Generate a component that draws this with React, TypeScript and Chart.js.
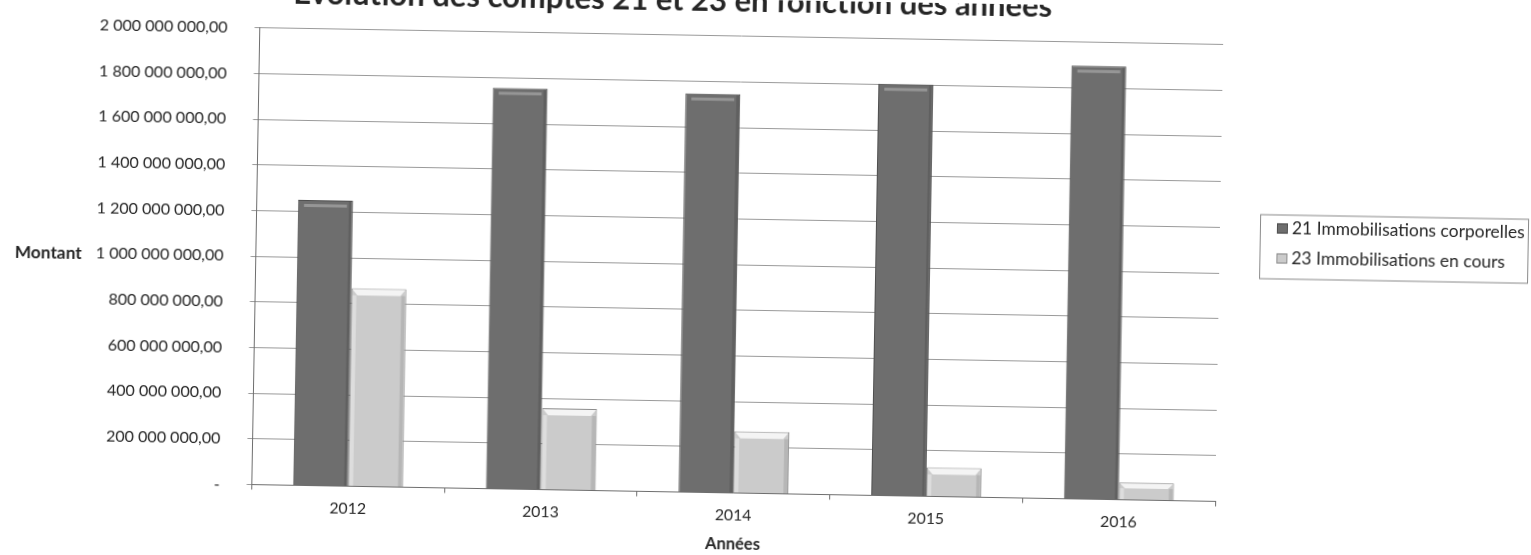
import React, { useEffect, useRef } from 'react';
import { Chart, registerables } from 'chart.js';

Chart.register(...registerables);

const categories = ['2012', '2013', '2014', '2015', '2016'];
const seriesNames = ['21 Immobilisations corporelles', '23 Immobilisations en cours'];
const compte21 = [1250000000, 1756000000, 1746000000, 1803000000, 1897000000];
const compte23 = [867000000, 357000000, 270000000, 127000000, 75000000];
const yMin = 0;
const yMax = 2000000000;
const yStep = 200000000;
const chartTitle = 'Evolution des comptes 21 et 23 en fonction des années';
const yTitle = 'Montant';
const xTitle = 'Années';

const FONT = 'Lato, "Open Sans", sans-serif';
const TEXT = '#262626';
const colors = ['#6e6e6e', '#cbcbcb'];
const borders = ['#4f4f4f', '#8c8c8c'];

function fmt(v: number): string {
  if (v === 0) return '-';
  const s = Math.round(v).toString().replace(/\B(?=(\d{3})+(?!\d))/g, ' ');
  return s + ',00';
}

// font size giving a text its width in the reference
function fitSize(text: string, weight: string, target: number): number {
  const c = document.createElement('canvas');
  const ctx = c.getContext('2d');
  if (!ctx) return 15;
  ctx.font = `${weight} 20px ${FONT}`;
  const w = ctx.measureText(text).width;
  return w > 0 ? (20 * target) / w : 15;
}

export default function App() {
  const ref = useRef<HTMLCanvasElement | null>(null);

  useEffect(() => {
    if (!ref.current) return;
    const titleSize = fitSize(chartTitle, 'bold', 759);
    const yTitleSize = fitSize(yTitle, 'bold', 67);
    const xTitleSize = fitSize(xTitle, 'bold', 55);
    const legendSize = fitSize(seriesNames[0], 'normal', 233);
    const yTickSize = fitSize(fmt(yMax), 'normal', 128);
    const xTickSize = fitSize(categories[2], 'normal', 36.7);

    const extras = {
      id: 'extras',
      afterDatasetsDraw(chart: any) {
        const { ctx } = chart;
        ctx.save();
        chart.data.datasets.forEach((ds: any, di: number) => {
          const meta = chart.getDatasetMeta(di);
          meta.data.forEach((bar: any) => {
            const { x, y, base, width } = bar.getProps(['x', 'y', 'base', 'width'], true);
            const l = x - width / 2;
            const r = x + width / 2;
            const h = base - y;
            if (h < 4) return;
            const bev = Math.min(7, h / 3);
            if (di === 0) {
              ctx.fillStyle = 'rgba(255,255,255,0.28)';
              ctx.fillRect(l + 6, y + 4, width - 12, 3);
              ctx.fillStyle = 'rgba(0,0,0,0.12)';
              ctx.fillRect(r - 4, y + 1, 3, h - 1);
            } else {
              ctx.fillStyle = '#f4f4f4';
              ctx.beginPath();
              ctx.moveTo(l + 1, y + 1);
              ctx.lineTo(r - 1, y + 1);
              ctx.lineTo(r - 6, y + bev);
              ctx.lineTo(l + 6, y + bev);
              ctx.closePath();
              ctx.fill();
              ctx.fillStyle = 'rgba(0,0,0,0.10)';
              ctx.fillRect(r - 5, y + bev, 4, h - bev);
              ctx.fillStyle = 'rgba(255,255,255,0.35)';
              ctx.fillRect(l + 1, y + bev, 4, h - bev);
            }
          });
        });
        ctx.restore();
      },
      afterDraw(chart: any) {
        const { ctx, chartArea } = chart;
        ctx.save();
        ctx.fillStyle = TEXT;
        ctx.font = `bold ${titleSize}px ${FONT}`;
        ctx.textAlign = 'left';
        ctx.textBaseline = 'alphabetic';
        ctx.fillText(chartTitle, 288.6, 12);

        ctx.font = `bold ${yTitleSize}px ${FONT}`;
        ctx.textAlign = 'center';
        ctx.textBaseline = 'middle';
        ctx.fillText(yTitle, 48, (chartArea.top + chartArea.bottom) / 2);

        // legend box
        const lx = 1259, ly = 205.5, lw = 268, lh = 64;
        ctx.strokeStyle = '#8a8a8a';
        ctx.lineWidth = 1;
        ctx.strokeRect(lx + 0.5, ly + 0.5, lw, lh);
        ctx.font = `${legendSize}px ${FONT}`;
        ctx.textAlign = 'left';
        ctx.textBaseline = 'middle';
        chart.data.datasets.forEach((ds: any, i: number) => {
          const cy = ly + 14 + i * 30;
          ctx.fillStyle = ds.backgroundColor;
          ctx.fillRect(1276, cy - 5, 11, 10);
          ctx.strokeStyle = ds.borderColor;
          ctx.strokeRect(1276.5, cy - 4.5, 10, 9);
          ctx.fillStyle = TEXT;
          ctx.fillText(ds.label, 1291, cy);
        });
        ctx.restore();
      },
    };

    const chart = new Chart(ref.current, {
      type: 'bar',
      data: {
        labels: categories,
        datasets: [
          {
            label: seriesNames[0],
            data: compte21,
            backgroundColor: colors[0],
            borderColor: borders[0],
            borderWidth: 1,
            categoryPercentage: 0.57,
            barPercentage: 1,
          },
          {
            label: seriesNames[1],
            data: compte23,
            backgroundColor: colors[1],
            borderColor: borders[1],
            borderWidth: 1,
            categoryPercentage: 0.57,
            barPercentage: 1,
          },
        ],
      },
      options: {
        animation: false,
        responsive: false,
        maintainAspectRatio: false,
        layout: { padding: { left: 0, right: 312, top: 28.5, bottom: 0 } },
        plugins: {
          legend: { display: false },
          title: { display: false },
          tooltip: { enabled: false },
        },
        scales: {
          x: {
            grid: { display: true, drawOnChartArea: false, drawTicks: true, tickLength: 5, color: '#6e6e6e', offset: true },
            border: { display: true, color: '#6e6e6e', width: 1 },
            ticks: { font: { family: FONT, size: xTickSize }, color: TEXT, padding: 8 },
            title: {
              display: true,
              text: xTitle,
              font: { family: FONT, size: xTitleSize, weight: 'bold' },
              color: TEXT,
              padding: { top: 0, bottom: 0 },
            },
            afterFit: (s: any) => { s.height = 61.5; },
          },
          y: {
            min: yMin,
            max: yMax,
            ticks: {
              stepSize: yStep,
              callback: (v: any) => fmt(Number(v)),
              font: { family: FONT, size: yTickSize },
              color: TEXT,
              padding: 27,
            },
            grid: { color: '#9a9a9a', tickLength: 5, drawTicks: true },
            border: { display: true, color: '#6e6e6e' },
            afterFit: (s: any) => { s.width = 255.4; },
          },
        },
      } as any,
      plugins: [extras],
    });
    return () => chart.destroy();
  }, []);

  return (
    <div style={{ position: 'fixed', left: 0, top: 0, width: 1531, height: 555, overflow: 'hidden', background: '#ffffff' }}>
      <div style={{ position: 'absolute', left: 0, top: 0, width: 1531, height: 555, transform: 'rotate(1deg)', transformOrigin: '765.5px 277.5px' }}>
        <canvas ref={ref} width={1531} height={555} style={{ display: 'block' }} />
      </div>
    </div>
  );
}
